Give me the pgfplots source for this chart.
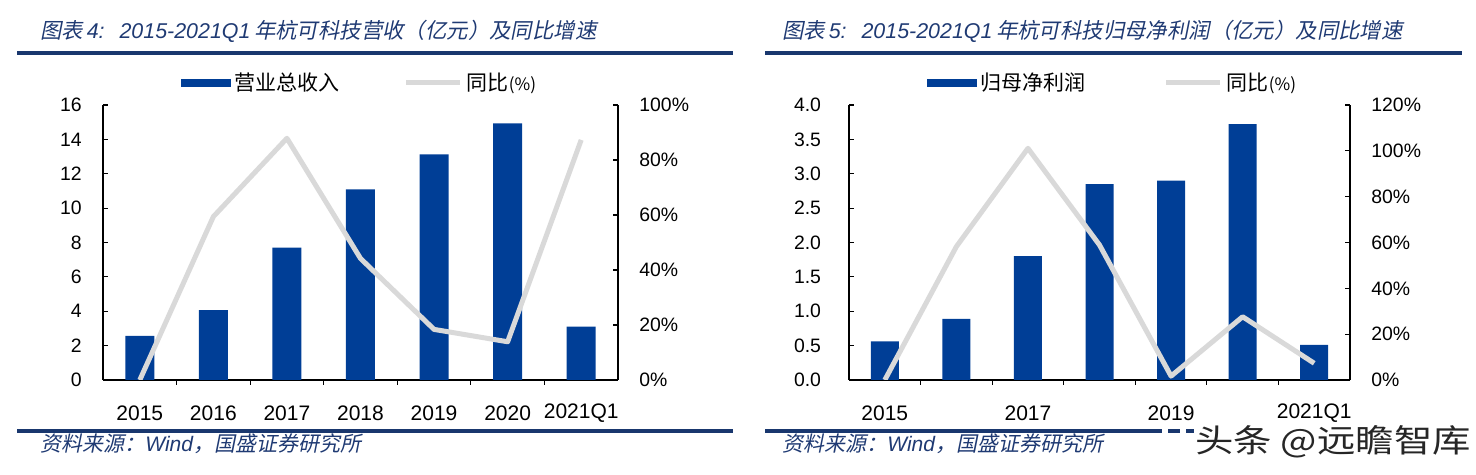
\documentclass[border=0pt]{standalone}
\usepackage{pgfplots}
\pgfplotsset{compat=1.18}
\usepackage{fontspec}
\setmainfont{Liberation Sans}
\newfontfamily\cjk{Noto Sans CJK SC}
\newfontfamily\cjksl{Noto Sans CJK SC}[FakeSlant=0.2]
\definecolor{barblue}{RGB}{0,62,150}
\definecolor{linegray}{RGB}{217,217,217}
\definecolor{titleblue}{RGB}{31,58,115}
\definecolor{ruleblue}{RGB}{25,55,110}
\pgfplotsset{
  barlegend/.style={legend image code/.code={\fill[barblue] (0pt,-1.8pt) rectangle (25pt,1.8pt);}},
  linelegend/.style={legend image code/.code={\draw[linegray, line width=2.5pt] (0pt,0pt) -- (27pt,0pt);}},
  common/.style={
    scale only axis, height=137.5pt, anchor=south west,
    xmin=-0.5, xmax=6.5, ymin=0,
    tick align=inside,
    axis line style={black, line width=0.6pt},
    every tick/.style={black, line width=0.6pt},
    major tick length=2.5pt, minor tick length=2.5pt,
    /pgf/number format/assume math mode=true,
    ticklabel style={font=\fontsize{9.7}{11}\selectfont},
  },
  barax/.style={
    common,
    axis x line*=bottom, axis y line*=left,
    xtick={0,...,6},
    major x tick style={draw=none},
    minor xtick={0.5,1.5,...,5.5},
    xticklabel style={font=\fontsize{10.5}{12}\selectfont, anchor=center, yshift=-14.25pt, inner sep=0pt},
    ybar, bar width=14.5pt,
    legend columns=2,
  },
  lineax/.style={
    common,
    axis x line=none, axis y line*=right,
    yticklabel={\pgfmathprintnumber{\tick}\%},
    yticklabel style={anchor=west, xshift=10.5pt, inner sep=0pt},
  },
}
\begin{document}
\begin{tikzpicture}
\useasboundingbox (0,0) rectangle (738pt,237.5pt);
% ---------- left panel ----------
\node[anchor=west, inner sep=0pt, text=titleblue, font=\fontsize{10.7}{12}\selectfont] at (20pt,222pt)
  {{\cjksl 图表}\,{\itshape 4:}\hspace{0.7em}{\itshape 2015-2021Q1}\,{\cjksl 年杭可科技营收（亿元）及同比增速}};
\draw[ruleblue, line width=2pt] (8.5pt,211pt) -- (366.5pt,211pt);
\begin{axis}[barax, at={(51.5pt,47.5pt)}, width=257.5pt,
  ymax=16, ytick={0,2,...,16},
  yticklabel style={anchor=east, xshift=-10.5pt, inner sep=0pt},
  xticklabels={2015,2016,2017,2018,2019,2020,2021Q1},
  legend style={draw=none, fill=none, at={(0.5,1.08)}, anchor=center,
    font=\cjk\fontsize{10.5}{12}\selectfont,
    /tikz/every even column/.append style={column sep=30pt}}]
\addplot[fill=barblue, draw=none, barlegend] coordinates {(0,2.56) (1,4.07) (2,7.70) (3,11.09) (4,13.13) (5,14.93) (6,3.10)};
\addlegendentry{营业总收入}
\addlegendimage{linelegend}
\addlegendentry{同比{\fontsize{8.5}{10}\selectfont (\%)}}
\end{axis}
\begin{axis}[lineax, at={(51.5pt,47.5pt)}, width=257.5pt,
  ymax=100, ytick={0,20,...,100}]
\addplot[linegray, line width=2.5pt, line join=round] coordinates {(0,0) (1,59.4) (2,87.9) (3,44.2) (4,18.4) (5,13.9) (6,87.3)};
\end{axis}
\draw[ruleblue, line width=2pt] (8.5pt,22pt) -- (366.5pt,22pt);
\node[anchor=west, inner sep=0pt, text=titleblue, font=\fontsize{10.5}{12}\selectfont] at (20pt,15.5pt)
  {{\cjksl 资料来源：}{\itshape Wind}{\cjksl ，国盛证券研究所}};
% ---------- right panel ----------
\node[anchor=west, inner sep=0pt, text=titleblue, font=\fontsize{10.7}{12}\selectfont] at (391pt,222pt)
  {{\cjksl 图表}\,{\itshape 5:}\hspace{0.7em}{\itshape 2015-2021Q1}\,{\cjksl 年杭可科技归母净利润（亿元）及同比增速}};
\draw[ruleblue, line width=2pt] (382.5pt,211pt) -- (731pt,211pt);
\begin{axis}[barax, at={(424.5pt,47.5pt)}, width=250.5pt,
  ymax=4, ytick={0,0.5,...,4},
  yticklabel style={anchor=east, xshift=-13.8pt, inner sep=0pt,
    /pgf/number format/.cd, fixed, fixed zerofill, precision=1},
  xticklabels={2015,,2017,,2019,,2021Q1},
  bar width=14pt,
  legend style={draw=none, fill=none, at={(0.528,1.08)}, anchor=center,
    font=\cjk\fontsize{10.5}{12}\selectfont,
    /tikz/every even column/.append style={column sep=37pt}}]
\addplot[fill=barblue, draw=none, barlegend] coordinates {(0,0.56) (1,0.89) (2,1.80) (3,2.85) (4,2.90) (5,3.72) (6,0.51)};
\addlegendentry{归母净利润}
\addlegendimage{linelegend}
\addlegendentry{同比{\fontsize{8.5}{10}\selectfont (\%)}}
\end{axis}
\begin{axis}[lineax, at={(424.5pt,47.5pt)}, width=250.5pt,
  ymax=120, ytick={0,20,...,120}]
\addplot[linegray, line width=2.5pt, line join=round] coordinates {(0,0) (1,58.2) (2,101.1) (3,58.9) (4,1.7) (5,27.6) (6,7.3)};
\end{axis}
\draw[ruleblue, line width=2pt] (382.5pt,22pt) -- (575pt,22pt);
\draw[ruleblue, line width=2pt, dash pattern=on 6pt off 3pt] (575pt,22pt) -- (597pt,22pt);
\node[anchor=west, inner sep=0pt, text=titleblue, font=\fontsize{10.5}{12}\selectfont] at (391pt,15.5pt)
  {{\cjksl 资料来源：}{\itshape Wind}{\cjksl ，国盛证券研究所}};
\node[anchor=west, inner sep=0pt, xscale=1.2, font=\cjk\fontsize{16}{18}\selectfont, text=black!85] at (597.5pt,16.5pt) {头条 @远瞻智库};
\end{tikzpicture}
\end{document}
